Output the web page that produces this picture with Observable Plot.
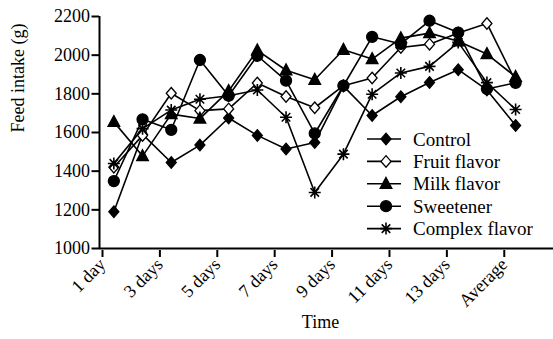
<!DOCTYPE html>
<html><head><meta charset="utf-8">
<script src="https://cdn.jsdelivr.net/npm/d3@7"></script>
<script src="https://cdn.jsdelivr.net/npm/@observablehq/plot@0.6"></script>
<style>
html,body{margin:0;padding:0;background:#fff;}
svg{font-family:"Liberation Serif","Times New Roman",serif;}
</style></head>
<body><div id="chart"></div>
<script>
const timepoints = ["Day 1","Day 2","Day 3","Day 4","Day 5","Day 6","Day 7","Day 8","Day 9","Day 10","Day 11","Day 12","Day 13","Day 14","Average"];
const tickLabels = ["1 day","3 days","5 days","7 days","9 days","11 days","13 days","Average"];
const seriesNames = ["Control","Fruit flavor","Milk flavor","Sweetener","Complex flavor"];
const control = [1190,1590,1445,1535,1675,1585,1515,1548,1840,1688,1785,1859,1925,1820,1636];
const fruit   = [1420,1585,1803,1713,1722,1856,1786,1728,1842,1882,2040,2057,2115,2164,1865];
const milk    = [1655,1478,1695,1672,1815,2025,1922,1873,2028,1980,2088,2114,2072,2006,1888];
const sweet   = [1349,1668,1614,1975,1790,1997,1868,1595,1842,2095,2058,2178,2117,1825,1857];
const complex = [1440,1620,1716,1772,1790,1820,1679,1290,1488,1798,1908,1942,2066,1858,1719];
const values = [control, fruit, milk, sweet, complex];

const R = s => Math.sqrt(s/Math.PI);
const symDiamond = {draw(c,s){const r=R(s); c.moveTo(0,-r*1.15); c.lineTo(r,0); c.lineTo(0,r*1.15); c.lineTo(-r,0); c.closePath();}};
const symTriangle = {draw(c,s){const r=R(s); c.moveTo(0,-r*1.2); c.lineTo(r*1.1,r*0.85); c.lineTo(-r*1.1,r*0.85); c.closePath();}};
const symCircle = {draw(c,s){const r=R(s); c.moveTo(r,0); c.arc(0,0,r,0,2*Math.PI);}};
const symAsterisk = {draw(c,s){const r=R(s); for(let k=0;k<4;k++){const a=k*Math.PI/4; c.moveTo(r*Math.sin(a),-r*Math.cos(a)); c.lineTo(-r*Math.sin(a),r*Math.cos(a));}}};
const styles = [
  {symbol: symDiamond, fill: "black", stroke: "black", r: 5},
  {symbol: symDiamond, fill: "white", stroke: "black", r: 5},
  {symbol: symTriangle, fill: "black", stroke: "black", r: 5.3},
  {symbol: symCircle, fill: "black", stroke: "black", r: 5.5},
  {symbol: symAsterisk, fill: "none", stroke: "black", r: 6}
];

const data = [];
seriesNames.forEach((s, si) => values[si].forEach((v, i) => data.push({series: s, si, i, v})));
const tickPos = tickLabels.map((_, k) => 2*k - 0.5);

const marks = [];
seriesNames.forEach((s, si) => {
  const d = data.filter(p => p.si === si);
  marks.push(Plot.line(d, {x: "i", y: "v", stroke: "black", strokeWidth: 1.6}));
});
seriesNames.forEach((s, si) => {
  const d = data.filter(p => p.si === si);
  const st = styles[si];
  marks.push(Plot.dot(d, {x: "i", y: "v", symbol: st.symbol, r: st.r, fill: st.fill, stroke: st.stroke, strokeWidth: si===4?1.6:1.3}));
});

const plot = Plot.plot({
  width: 553, height: 339,
  marginLeft: 99, marginRight: 0, marginTop: 16, marginBottom: 91,
  style: {fontFamily: "Liberation Serif, Times New Roman, serif", fontSize: "18px", background: "white", color: "black"},
  x: {type: "linear", domain: [-0.5, 15.32]},
  y: {domain: [1000, 2200]},
  marks: [
    Plot.axisY({ticks: d3.range(1000, 2201, 200), tickSize: 7.5, tickPadding: 2, strokeWidth: 2, fontSize: 18, label: null, tickFormat: d => String(d)}),
    Plot.axisX({ticks: tickPos, tickFormat: (d) => tickLabels[Math.round((d+0.5)/2)], tickRotate: -45, tickSize: 7, tickPadding: 4, strokeWidth: 2, fontSize: 18, label: null, dx: 3, dy: 2}),
    Plot.ruleX([-0.5], {y1: 1000, y2: 2200, strokeWidth: 2}),
    Plot.ruleY([1000], {strokeWidth: 2}),
    Plot.text(["Feed intake (g)"], {frameAnchor: "left", dx: -81, rotate: -90, fontSize: 18}),
    Plot.text(["Time"], {frameAnchor: "bottom", dy: 79, dx: -6, fontSize: 18}),
    ...marks
  ]
});
document.getElementById("chart").appendChild(plot);

// legend
const svg = d3.select(plot);
const lg = svg.append("g").attr("text-anchor", "start");
const x0 = 367, x1 = 401, xm = 386, xt = 413, y0 = 139, dy = 22.4;
seriesNames.forEach((s, si) => {
  const y = y0 + si*dy;
  lg.append("line").attr("x1", x0).attr("x2", x1).attr("y1", y).attr("y2", y).attr("stroke", "black").attr("stroke-width", 1.6);
  const st = styles[si];
  lg.append("path").attr("transform", `translate(${xm},${y})`)
    .attr("d", d3.symbol(st.symbol, Math.PI*st.r*st.r)())
    .attr("fill", st.fill).attr("stroke", st.stroke).attr("stroke-width", si===4?1.6:1.3);
  lg.append("text").attr("x", xt).attr("y", y).attr("dy", "0.35em").attr("font-size", 19).attr("text-anchor", "start").attr("fill", "black").text(s);
});
</script></body></html>
